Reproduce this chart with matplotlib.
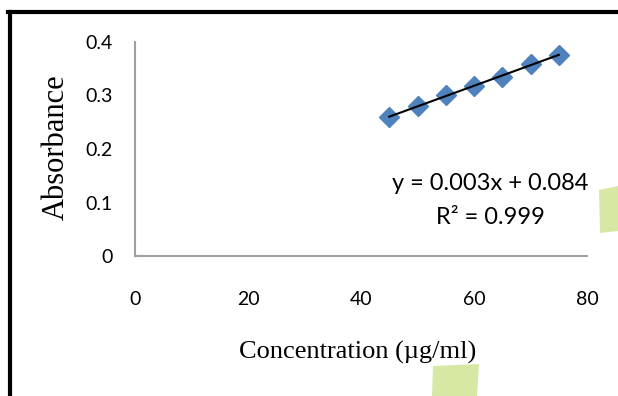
import numpy as np
import matplotlib
matplotlib.use('Agg')
import matplotlib.pyplot as plt
from matplotlib.patches import Polygon

# calibration data
conc = [45, 50, 55, 60, 65, 70, 75]
absorb = [0.260, 0.280, 0.300, 0.318, 0.335, 0.358, 0.376]
x_ticks = [0, 20, 40, 60, 80]
y_ticks = [0, 0.1, 0.2, 0.3, 0.4]
y_tick_labels = ['0', '0.1', '0.2', '0.3', '0.4']
equation = 'y = 0.003x + 0.084'
r_squared = 'R² = 0.999'

fig = plt.figure(figsize=(6.18, 3.96), dpi=100)
ax = fig.add_axes([135 / 618, 1 - 256 / 396, (587 - 135) / 618, (256 - 42) / 396])

ax.plot(conc, absorb, linestyle='none', marker='D', markersize=10,
        color='#4f81bd', zorder=3)

# linear trend line
k, b = np.polyfit(conc, absorb, 1)
xs = np.array([conc[0], conc[-1]])
ax.plot(xs, k * xs + b, color='black', linewidth=1.5, zorder=4)

ax.set_xlim(0, 80)
ax.set_ylim(0, 0.4)
ax.set_xticks(x_ticks)
ax.set_yticks(y_ticks)
ax.set_yticklabels(y_tick_labels)
for s in ['top', 'right']:
    ax.spines[s].set_visible(False)
for s in ['left', 'bottom']:
    ax.spines[s].set_color('#a0a0a0')
    ax.spines[s].set_linewidth(1.5)
ax.tick_params(axis='both', length=0, labelsize=14)
ax.tick_params(axis='y', pad=16)
ax.tick_params(axis='x', pad=25)
for lab in ax.get_xticklabels() + ax.get_yticklabels():
    lab.set_family('Lato')

ax.text(490 / 618, 1 - 183 / 396, equation, transform=fig.transFigure,
        ha='center', va='center', fontsize=17, family='Lato')
ax.text(490 / 618, 1 - 217 / 396, r_squared, transform=fig.transFigure,
        ha='center', va='center', fontsize=17, family='Lato')

fig.text(56 / 618, 1 - 147 / 396, 'Absorbance', rotation=90, ha='center',
         va='center', fontsize=22, family='Liberation Serif')
fig.text(358 / 618, 1 - 352 / 396, 'Concentration (µg/ml)', ha='center',
         va='center', fontsize=19, family='Liberation Serif')

# black frame on top and left
fig.add_artist(plt.Line2D([10 / 618, 10 / 618], [0, 1 - 12 / 396],
                          color='black', linewidth=3, transform=fig.transFigure))
fig.add_artist(plt.Line2D([8 / 618, 1], [1 - 12 / 396, 1 - 12 / 396],
                          color='black', linewidth=3, transform=fig.transFigure))

# light green watermark pieces
def fig_poly(pts):
    return Polygon([(px / 618, 1 - py / 396) for px, py in pts],
                   closed=True, transform=fig.transFigure,
                   facecolor='#d6e8a4', edgecolor='none')

fig.add_artist(fig_poly([(599, 190), (618, 186), (618, 231), (600, 233)]))
fig.add_artist(fig_poly([(433, 366), (479, 364), (477, 396), (432, 396)]))

fig.savefig('out.png', dpi=100)
